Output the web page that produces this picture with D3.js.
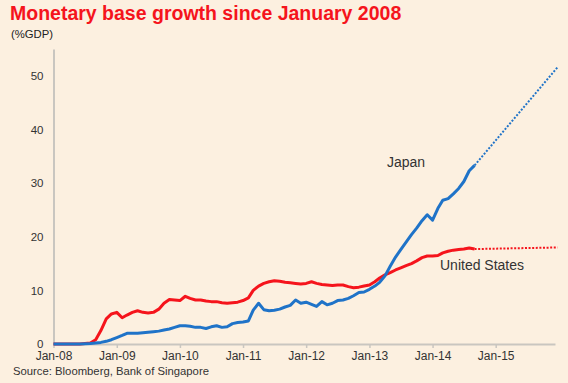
<!DOCTYPE html>
<html>
	<head>
		<meta charset="utf-8">
		<title>Monetary base growth</title>
		<script src="https://d3js.org/d3.v7.min.js"></script>
		<style>
			body { margin: 0; background: #fcf0e0; }
			svg { display: block; font-family: Arial, "Liberation Sans", sans-serif; }
		</style>
	</head>
	<body>
		<script>

		// monthly data, Jan-08 .. Sep-14 (% of GDP)
		var japan = [0, 0, 0, 0, 0, 0, 0.05, 0.1, 0.2, 0.3, 0.5, 0.8,
			1.2, 1.6, 2.0, 2.0, 2.0, 2.1, 2.2, 2.3, 2.4, 2.6, 2.8, 3.1,
			3.4, 3.4, 3.3, 3.1, 3.1, 2.9, 3.2, 3.4, 3.1, 3.2, 3.8, 4.0,
			4.1, 4.3, 6.3, 7.6, 6.4, 6.2, 6.3, 6.5, 6.9, 7.2, 8.2, 7.6,
			7.8, 7.4, 7.0, 7.9, 7.3, 7.6, 8.1, 8.2, 8.5, 9.0, 9.6, 9.7,
			10.2, 10.8, 11.5, 12.7, 14.5, 16.2, 17.6, 19.0, 20.4, 21.6, 23.0, 24.1,
			23.1, 25.3, 26.8, 27.1, 28.0, 29.0, 30.3, 32.3, 33.3];
		var us = [0, 0, 0, 0, 0, 0, 0.1, 0.2, 0.8, 2.5, 4.7, 5.6,
			5.9, 4.9, 5.4, 5.9, 6.2, 5.9, 5.8, 5.9, 6.5, 7.6, 8.3, 8.2,
			8.1, 8.9, 8.5, 8.2, 8.2, 8.0, 7.9, 7.9, 7.7, 7.6, 7.7, 7.8,
			8.1, 8.6, 10.0, 10.8, 11.3, 11.6, 11.8, 11.7, 11.5, 11.4, 11.3, 11.2,
			11.3, 11.6, 11.3, 11.1, 11.0, 10.9, 11.0, 11.0, 10.7, 10.5, 10.6, 10.8,
			11.0, 11.6, 12.3, 12.9, 13.3, 13.8, 14.2, 14.6, 15.0, 15.5, 16.1, 16.4,
			16.4, 16.5, 17.0, 17.3, 17.5, 17.6, 17.7, 17.9, 17.7];

		// projections (dotted), from last actual to end of 2015
		var projDates = ["2014-09-01", "2015-12-25"];
		var japanProj = [33.3, 51.6];
		var usProj = [17.7, 18.0];

		var xTickLabels = ["Jan-08","Jan-09","Jan-10","Jan-11","Jan-12","Jan-13","Jan-14","Jan-15"];
		var yTicks = [0, 10, 20, 30, 40, 50];

		var width = 568, height = 383;
		var margin = {left: 53.5, right: 555, top: 49, bottom: 344};

		var parse = d3.timeParse("%Y-%m-%d");
		var months = d3.timeMonth.range(parse("2008-01-01"), parse("2014-10-01"));
		var tickDates = d3.timeYear.range(parse("2008-01-01"), parse("2015-02-01"));

		var x = d3.scaleTime()
			.domain([parse("2008-01-01"), parse("2015-12-10")])
			.range([margin.left, margin.right]);
		var y = d3.scaleLinear()
			.domain([0, 55])
			.range([margin.bottom, margin.top]);

		var svg = d3.select("body").append("svg")
			.attr("width", width)
			.attr("height", height);

		svg.append("rect")
			.attr("width", width)
			.attr("height", height)
			.attr("fill", "#fcf0e0");

		// title
		svg.append("text")
			.attr("x", 10)
			.attr("y", 20)
			.attr("fill", "#f5141c")
			.attr("font-size", 19.5)
			.attr("font-weight", "bold")
			.text("Monetary base growth since January 2008");

		svg.append("text")
			.attr("x", 11)
			.attr("y", 38)
			.attr("fill", "#222")
			.attr("font-size", 11.3)
			.text("(%GDP)");

		// axes
		var xAxis = d3.axisBottom(x)
			.tickValues(tickDates)
			.tickSize(4)
			.tickSizeOuter(0)
			.tickPadding(3)
			.tickFormat(function(d, i) { return xTickLabels[i]; });

		var gx = svg.append("g")
			.attr("transform", "translate(0," + margin.bottom + ")")
			.call(xAxis);

		var yAxis = d3.axisLeft(y)
			.tickValues(yTicks)
			.tickSize(0)
			.tickPadding(10);

		var gy = svg.append("g")
			.attr("transform", "translate(" + margin.left + ",0)")
			.call(yAxis);

		svg.selectAll(".domain")
			.attr("stroke", "#c9c6c0")
			.attr("stroke-width", 2);
		gx.selectAll(".tick line")
			.attr("stroke", "#c9c6c0")
			.attr("stroke-width", 1.5);
		svg.selectAll(".tick text")
			.attr("fill", "#333")
			.attr("font-family", "Arial, 'Liberation Sans', sans-serif");
		gx.selectAll(".tick text").attr("font-size", 12);
		gy.selectAll(".tick text").attr("font-size", 11.5);

		// lines
		var line = d3.line()
			.x(function(d) { return x(d.date); })
			.y(function(d) { return y(d.value); });

		function series(vals) {
			return vals.map(function(v, i) { return {date: months[i], value: v}; });
		}
		function proj(vals) {
			return vals.map(function(v, i) { return {date: parse(projDates[i]), value: v}; });
		}

		svg.append("path")
			.datum(proj(usProj))
			.attr("d", line)
			.attr("fill", "none")
			.attr("stroke", "#f5141c")
			.attr("stroke-width", 2)
			.attr("stroke-dasharray", "2,1.6");

		svg.append("path")
			.datum(proj(japanProj))
			.attr("d", line)
			.attr("fill", "none")
			.attr("stroke", "#1f73c8")
			.attr("stroke-width", 2)
			.attr("stroke-dasharray", "2,1.6");

		svg.append("path")
			.datum(series(us))
			.attr("d", line)
			.attr("fill", "none")
			.attr("stroke", "#f5141c")
			.attr("stroke-width", 3)
			.attr("stroke-linejoin", "round");

		svg.append("path")
			.datum(series(japan))
			.attr("d", line)
			.attr("fill", "none")
			.attr("stroke", "#1f73c8")
			.attr("stroke-width", 3)
			.attr("stroke-linejoin", "round");

		// labels
		svg.append("text")
			.attr("x", 387)
			.attr("y", 167)
			.attr("fill", "#333")
			.attr("font-size", 14)
			.text("Japan");

		svg.append("text")
			.attr("x", 440)
			.attr("y", 270)
			.attr("fill", "#333")
			.attr("font-size", 14)
			.text("United States");

		svg.append("text")
			.attr("x", 13)
			.attr("y", 375)
			.attr("fill", "#333")
			.attr("font-size", 11.3)
			.text("Source: Bloomberg, Bank of Singapore");

		</script>
	</body>
</html>
